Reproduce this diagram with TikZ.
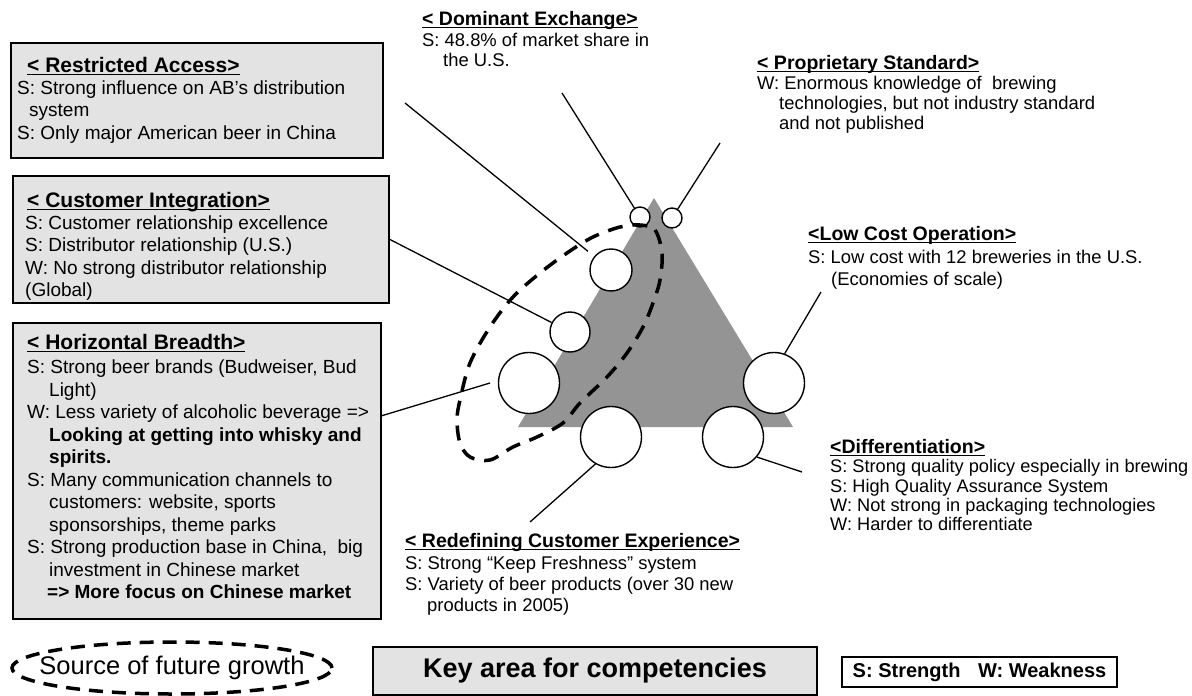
\documentclass[tikz,border=0pt]{standalone}
\usepackage{fontspec}
\setmainfont{Liberation Sans}
\newcommand{\titleul}[1]{\setbox0=\hbox{#1}\leavevmode\rlap{\rule[-2.8pt]{\wd0}{1.3pt}}\box0}
\begin{document}
\begin{tikzpicture}[x=1pt,y=-1pt,
  box/.style={draw=black,line width=1.6pt,fill=black!11,inner sep=0pt,anchor=north west},
  bubble/.style={circle,draw=black,line width=1.4pt,fill=white,inner sep=0pt},
  conn/.style={line width=1.3pt},
  boxtitle/.style={anchor=base west,inner sep=0pt,font=\fontsize{21}{24}\selectfont\bfseries},
  boxbody/.style={anchor=north west,align=left,inner sep=0pt,font=\fontsize{19}{22.5}\selectfont},
  sidetitle/.style={anchor=base west,inner sep=0pt,font=\fontsize{19.5}{22}\selectfont\bfseries},
  sidebody/.style={anchor=north west,align=left,inner sep=0pt},
  growth/.style={line width=3.5pt,dash pattern=on 14pt off 9pt}
]
\useasboundingbox (0,0) rectangle (1192,696);

% central triangle
\fill[black!42] (654,198) -- (793,427) -- (518,427) -- cycle;

% left boxes
\node[box,minimum width=372pt,minimum height=115pt] (ra) at (10,42) {};
\node[box,minimum width=376pt,minimum height=127pt] (ci) at (12,175) {};
\node[box,minimum width=368pt,minimum height=296pt] (hb) at (12,322) {};

\node[boxtitle] (raT) at (27,72) {\titleul{< Restricted Access>}};
\node[boxbody] (raB) at (17,78.5) {\strut S: Strong influence on AB's distribution\\\hspace*{12pt}system\\S: Only major American beer in China};

\node[boxtitle] (ciT) at (27,207) {\titleul{< Customer Integration>}};
\node[boxbody] (ciB) at (25,213.5) {\strut S: Customer relationship excellence\\S: Distributor relationship (U.S.)\\W: No strong distributor relationship\\(Global)};

\node[boxtitle] (hbT) at (27,349) {\titleul{< Horizontal Breadth>}};
\node[boxbody] (hbB) at (27,358) {\strut S: Strong beer brands (Budweiser, Bud\\\hspace*{22pt}Light)\\W: Less variety of alcoholic beverage =>\\\hspace*{22pt}\textbf{Looking at getting into whisky and}\\\hspace*{22pt}\textbf{spirits.}\\S: Many communication channels to\\\hspace*{22pt}customers: website, sports\\\hspace*{22pt}sponsorships, theme parks\\S: Strong production base in China,~ big\\\hspace*{22pt}investment in Chinese market\\\hspace*{20pt}\textbf{=> More focus on Chinese market}};

% side texts
\node[sidetitle] (deT) at (422,25) {\titleul{< Dominant Exchange>}};
\node[sidebody,font=\fontsize{18.4}{20}\selectfont] (deB) at (422,32.6) {\strut S: 48.8\% of market share in\\\hspace*{21pt}the U.S.};

\node[sidetitle] (psT) at (757,69) {\titleul{< Proprietary Standard>}};
\node[sidebody,font=\fontsize{18.4}{20}\selectfont] (psB) at (757,75.6) {\strut W: Enormous knowledge of~ brewing\\\hspace*{22pt}technologies, but not industry standard\\\hspace*{22pt}and not published};

\node[sidetitle] (lcT) at (808,240) {\titleul{<Low Cost Operation>}};
\node[sidebody,font=\fontsize{18.4}{22}\selectfont] (lcB) at (808,248.2) {\strut S: Low cost with 12 breweries in the U.S.\\\hspace*{23pt}(Economies of scale)};

\node[sidetitle] (dfT) at (830,453) {\titleul{<Differentiation>}};
\node[sidebody,font=\fontsize{18.2}{19.4}\selectfont] (dfB) at (830,459) {\strut S: Strong quality policy especially in brewing\\S: High Quality Assurance System\\W: Not strong in packaging technologies\\W: Harder to differentiate};

\node[sidetitle] (rcT) at (405,547) {\titleul{< Redefining Customer Experience>}};
\node[sidebody,font=\fontsize{18.4}{21}\selectfont] (rcB) at (405,554.9) {\strut S: Strong “Keep Freshness” system\\S: Variety of beer products (over 30 new\\\hspace*{22pt}products in 2005)};

% circles
\node[bubble,minimum size=20pt] (s1) at (640,217) {};
\node[bubble,minimum size=20pt] (s2) at (672,218) {};
\node[bubble,minimum size=42pt] (A) at (611,270) {};
\node[bubble,minimum size=40pt] (B) at (570,332) {};
\node[bubble,minimum size=61pt] (C) at (529,383) {};
\node[bubble,minimum size=61pt] (D) at (611,437) {};
\node[bubble,minimum size=61pt] (E) at (733,437) {};
\node[bubble,minimum size=61pt] (F) at (774,383) {};

% connector end points
\coordinate (raA) at (405,103);
\coordinate (hbB2) at (490,383);
\coordinate (deA) at (562,93);
\coordinate (psA) at (720,143);
\coordinate (lcA) at (821,292);
\coordinate (dfA) at (802,472);
\coordinate (rcA) at (530,522);

% connectors
\draw[conn,shorten >=8pt] (raA) -- (A);
\draw[conn] (ci.east) -- (B);
\draw[conn] ([yshift=55pt]hb.east) -- (hbB2);
\draw[conn] (deA) -- (s1);
\draw[conn] (psA) -- (s2);
\draw[conn] (lcA) -- (F.70);
\draw[conn] (dfA) -- (E.-40);
\draw[conn] (D.-120) -- (rcA);

% source of future growth outline
\draw[growth,dash pattern=on 15pt off 10pt] plot[smooth cycle,tension=0.55] coordinates {
 (640,225) (655,230) (662,253) (660,280) (653,303) (643,327) (627,353) (607,377)
 (580,403) (563,423) (537,437) (513,447) (490,460) (470,457) (460,443) (457,420)
 (460,400) (470,363) (490,327) (513,297) (540,273) (567,253) (593,237) (620,227)};

% legend row
\node[inner sep=0pt,font=\fontsize{25.5}{28}\selectfont] (src) at (172,668) {Source of future growth};
\draw[growth] (src.center) ellipse [x radius=160pt, y radius=26pt];
\node[draw,line width=1.6pt,fill=black!11,minimum width=444pt,minimum height=48pt,inner sep=0pt,font=\fontsize{27}{30}\selectfont\bfseries] (key) at (595,671) {Key area for competencies};
\node[draw,line width=1.5pt,fill=white,minimum width=275pt,minimum height=30pt,inner sep=0pt,font=\fontsize{20}{22}\selectfont\bfseries] (leg) at (979.5,672) {S: Strength\hspace{12pt} W: Weakness};
\end{tikzpicture}
\end{document}
